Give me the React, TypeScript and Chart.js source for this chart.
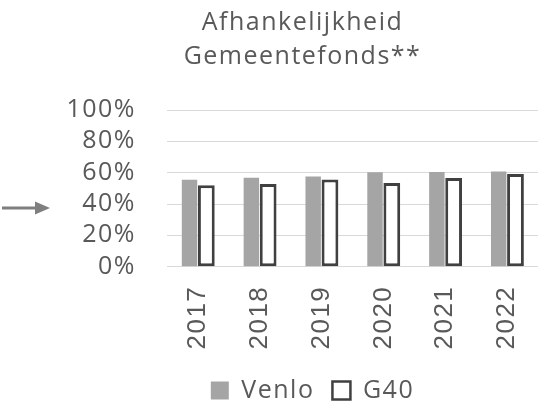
import React, { useEffect, useRef } from "react";
import { Chart, registerables } from "chart.js";

Chart.register(...registerables);

// ---- data ----
const years = ["2017", "2018", "2019", "2020", "2021", "2022"];
const venloValues = [55.5, 56.7, 57.5, 60.3, 60.5, 60.8];
const g40Values = [52.0, 52.8, 55.6, 53.4, 56.6, 59.2];
const seriesNames = ["Venlo", "G40"];
const titleLines = ["Afhankelijkheid", "Gemeentefonds**"];
const yMin = 0;
const yMax = 100;
const yStep = 20;
const arrowLevel = 37.5;

const TEXT = "#595959";
const SPACING = "1.5px";

const spacingPlugin = {
  id: "letterSpacingPlugin",
  beforeLayout(chart: any) {
    (chart.ctx as any).letterSpacing = SPACING;
  },
  beforeDraw(chart: any) {
    (chart.ctx as any).letterSpacing = SPACING;
  },
};

const legendShiftPlugin = {
  id: "legendShiftPlugin",
  afterLayout(chart: any) {
    if (chart.legend) chart.legend.left += 20;
  },
};

const arrowPlugin = {
  id: "arrowPlugin",
  afterDraw(chart: any) {
    const ctx = chart.ctx;
    const y = chart.scales.y.getPixelForValue(arrowLevel);
    ctx.save();
    ctx.strokeStyle = "#7f7f7f";
    ctx.fillStyle = "#7f7f7f";
    ctx.lineWidth = 3;
    ctx.beginPath();
    ctx.moveTo(2, y);
    ctx.lineTo(37, y);
    ctx.stroke();
    ctx.beginPath();
    ctx.moveTo(35, y - 6.5);
    ctx.lineTo(50, y);
    ctx.lineTo(35, y + 6.5);
    ctx.closePath();
    ctx.fill();
    ctx.restore();
  },
};

export default function App() {
  const canvasRef = useRef<HTMLCanvasElement | null>(null);

  useEffect(() => {
    if (!canvasRef.current) return;
    const chart = new Chart(canvasRef.current, {
      type: "bar",
      data: {
        labels: years,
        datasets: [
          {
            label: seriesNames[0],
            data: venloValues,
            backgroundColor: "#a5a5a5",
            borderWidth: 0,
            barPercentage: 0.92,
            categoryPercentage: 0.543,
          },
          {
            label: seriesNames[1],
            data: g40Values,
            backgroundColor: "#ffffff",
            borderColor: "#404040",
            borderWidth: 3,
            borderSkipped: false,
            barPercentage: 1.0,
            categoryPercentage: 0.543,
          },
        ],
      },
      options: {
        responsive: false,
        animation: false,
        devicePixelRatio: 1,
        layout: { padding: { left: 67, right: 13, top: 0, bottom: 0 } },
        plugins: {
          title: {
            display: true,
            text: titleLines,
            color: TEXT,
            font: { family: "Open Sans", size: 25, weight: "normal", lineHeight: "34px" },
            padding: { top: 6, bottom: 36 },
          },
          legend: {
            position: "bottom",
            labels: {
              boxWidth: 18,
              boxHeight: 18,
              padding: 18,
              color: TEXT,
              font: { family: "Open Sans", size: 25 },
              generateLabels: (chart: any) => {
                const items = Chart.defaults.plugins.legend.labels.generateLabels(chart);
                items.forEach((it: any) => {
                  if (it.lineWidth && it.lineWidth > 0) it.lineWidth = 2.5;
                });
                return items;
              },
            },
          },
          tooltip: { enabled: false },
        },
        scales: {
          x: {
            grid: { display: false, drawTicks: false },
            border: { display: false },
            ticks: {
              minRotation: 90,
              maxRotation: 90,
              autoSkip: false,
              padding: 19,
              color: TEXT,
              font: { family: "Liberation Sans", size: 26 },
            },
            afterFit: (scale: any) => {
              scale.height = 93.3;
              scale.paddingLeft = 0;
              scale.paddingRight = 0;
            },
          },
          y: {
            min: yMin,
            max: yMax,
            border: { display: false },
            grid: { color: "#d9d9d9", lineWidth: 1, drawTicks: false },
            ticks: {
              stepSize: yStep,
              autoSkip: false,
              padding: 31,
              color: TEXT,
              font: { family: "Open Sans", size: 25 },
              callback: (v: any) => v + "%",
            },
            afterFit: (scale: any) => {
              scale.width = 100;
            },
          },
        },
      },
      plugins: [spacingPlugin, legendShiftPlugin, arrowPlugin],
    } as any);
    return () => chart.destroy();
  }, []);

  return (
    <div style={{ position: "absolute", left: 0, top: 0, width: 551, height: 413, background: "#fff" }}>
      <canvas ref={canvasRef} width={551} height={413} style={{ display: "block", width: 551, height: 413 }} />
    </div>
  );
}
